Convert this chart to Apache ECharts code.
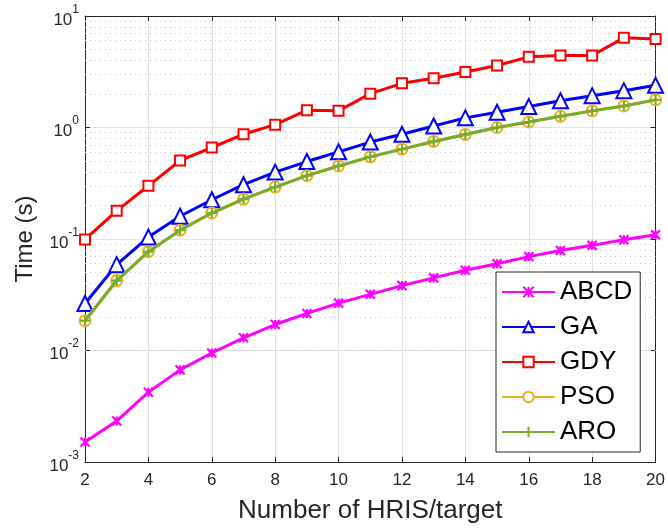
<!DOCTYPE html>
<html>
<head>
<meta charset="utf-8">
<script src="https://cdn.jsdelivr.net/npm/echarts@6/dist/echarts.min.js"></script>
<style>
    html, body { margin: 0; padding: 0; background: #fff; }
    #main { width: 668px; height: 529px; }
</style>
</head>
<body>
<div id="main"></div>
<script>
    // data
    var xs = [2, 3, 4, 5, 6, 7, 8, 9, 10, 11, 12, 13, 14, 15, 16, 17, 18, 19, 20];
    var abcd = [0.00151, 0.00233, 0.00423, 0.0067, 0.0095, 0.013, 0.0171, 0.0215, 0.0266, 0.0319, 0.0382, 0.0448, 0.0525, 0.060, 0.0695, 0.079, 0.0877, 0.0986, 0.109];
    var ga = [0.0264, 0.0589, 0.104, 0.16, 0.225, 0.307, 0.398, 0.495, 0.605, 0.74, 0.87, 1.03, 1.22, 1.37, 1.54, 1.74, 1.93, 2.14, 2.39];
    var gdy = [0.099, 0.179, 0.30, 0.506, 0.66, 0.87, 1.06, 1.43, 1.41, 2.01, 2.49, 2.76, 3.14, 3.6, 4.3, 4.43, 4.43, 6.37, 6.23];
    var pso = [0.0185, 0.0424, 0.077, 0.12, 0.171, 0.228, 0.292, 0.37, 0.452, 0.545, 0.64, 0.75, 0.866, 1.0, 1.12, 1.26, 1.41, 1.56, 1.77];
    var aro = [0.0185, 0.0424, 0.077, 0.12, 0.171, 0.228, 0.292, 0.37, 0.452, 0.545, 0.64, 0.75, 0.866, 1.0, 1.12, 1.26, 1.41, 1.56, 1.77];
    var names = ['ABCD', 'GA', 'GDY', 'PSO', 'ARO'];
    var colors = ['#FF00FF', '#0000FF', '#FF0000', '#EDB120', '#77AC30'];

    var font = '"Liberation Sans", Arial, sans-serif';
    var txt = '#262626';

    function pairs(arr) {
        return xs.map(function (x, i) { return [x, arr[i]]; });
    }

    // dotted minor grid lines 2..9 in every decade
    var minor = [];
    for (var e = -3; e <= 0; e++) {
        for (var k = 2; k <= 9; k++) {
            minor.push({ yAxis: k * Math.pow(10, e) });
        }
    }

    function mkSeries(i, data, symbol, size) {
        return {
            name: names[i],
            type: 'line',
            data: pairs(data),
            symbol: symbol,
            symbolSize: size,
            showSymbol: true,
            color: colors[i],
            lineStyle: { width: 3, color: colors[i] },
            itemStyle: { color: colors[i], borderColor: colors[i], borderWidth: 2.2 },
            emphasis: { disabled: true },
            z: 3 + i
        };
    }

    var series = [
        mkSeries(0, abcd, 'path://M0,0L10,10M10,0L0,10M5,0L5,10', 9),
        mkSeries(1, ga, 'emptyTriangle', 15),
        mkSeries(2, gdy, 'emptyRect', 10),
        mkSeries(3, pso, 'emptyCircle', 11),
        mkSeries(4, aro, 'path://M5,0L5,10M0,5L10,5', 10)
    ];
    series[0].markLine = {
        silent: true,
        symbol: 'none',
        label: { show: false },
        lineStyle: { type: [1, 4], color: '#c8c8c8', width: 1 },
        data: minor,
        z: 1
    };

    var chart = echarts.init(document.getElementById('main'));
    chart.setOption({
        animation: false,
        backgroundColor: '#fff',
        textStyle: { fontFamily: font },
        grid: { left: 85, right: 10, top: 16, bottom: 66 },
        legend: {
            orient: 'vertical',
            left: 496,
            top: 272,
            data: names,
            itemWidth: 53,
            itemHeight: 13,
            itemGap: 9,
            padding: [7, 8, 7, 5],
            backgroundColor: '#fff',
            borderColor: txt,
            borderWidth: 1,
            textStyle: { fontSize: 26, color: '#000', fontFamily: font },
            selectedMode: false
        },
        xAxis: [{
            type: 'value',
            min: 2, max: 20, interval: 2,
            name: 'Number of HRIS/target',
            nameLocation: 'middle',
            nameGap: 36,
            nameTextStyle: { fontSize: 26, color: txt, fontFamily: font },
            axisLine: { lineStyle: { color: txt, width: 1 } },
            axisTick: { inside: true, length: 5, lineStyle: { color: txt } },
            axisLabel: { fontSize: 17, color: txt, margin: 10, fontFamily: font },
            splitLine: { show: true, lineStyle: { color: '#e3e3e3', width: 1 } }
        }, {
            type: 'value',
            position: 'top',
            min: 2, max: 20, interval: 2,
            axisLine: { show: true, lineStyle: { color: txt, width: 1 } },
            axisTick: { inside: true, length: 5, lineStyle: { color: txt } },
            axisLabel: { show: false },
            splitLine: { show: false }
        }],
        yAxis: [{
            type: 'log',
            logBase: 10,
            min: 0.001, max: 10,
            name: 'Time (s)',
            nameLocation: 'middle',
            nameGap: 48,
            nameTextStyle: { fontSize: 24, color: txt, fontFamily: font },
            axisLine: { show: true, lineStyle: { color: txt, width: 1 } },
            axisTick: { inside: true, length: 5, lineStyle: { color: txt } },
            axisLabel: {
                color: txt,
                margin: 6,
                formatter: function (v) {
                    var p = Math.round(Math.log10(v));
                    return '{b|10}{s|' + p + '}';
                },
                rich: {
                    b: { fontSize: 17, color: txt, fontFamily: font, padding: [8, 0, 0, 0] },
                    s: { fontSize: 12, color: txt, fontFamily: font, verticalAlign: 'top' }
                }
            },
            splitLine: { show: true, lineStyle: { color: '#e3e3e3', width: 1 } }
        }, {
            type: 'log',
            logBase: 10,
            min: 0.001, max: 10,
            position: 'right',
            axisLine: { show: true, lineStyle: { color: txt, width: 1 } },
            axisTick: { inside: true, length: 5, lineStyle: { color: txt } },
            axisLabel: { show: false },
            splitLine: { show: false }
        }],
        series: series
    });
</script>
</body>
</html>
